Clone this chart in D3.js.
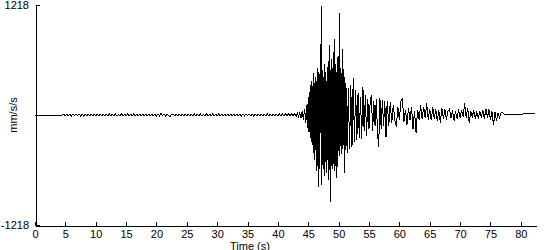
<!DOCTYPE html>
<html><head><meta charset="utf-8">
<script src="https://cdn.jsdelivr.net/npm/d3@7"></script>
<style>
html,body{margin:0;padding:0;background:#fff;}
svg{display:block;}
text{font-family:"Liberation Sans",Arial,sans-serif;font-size:11px;fill:#000;}
</style></head>
<body>
<svg id="chart" width="550" height="250"></svg>
<script>
// ---- data (time in s, acceleration in mm/s/s) ----
const xTicks = [0,5,10,15,20,25,30,35,40,45,50,55,60,65,70,75,80];
const yTickLabels = [-1218, 1218];
const yTicks = [-1218, 0, 1218];
const yLabel = "mm/s/s";
const xLabel = "Time (s)";

const quietTrace = [[0,0],[4.5,0]];
const noiseTrace = [
[4.75,9],[5.0,-8],[5.25,10],[5.5,-9],[5.75,8],[6.0,-10],[6.25,11],[6.5,-9],[6.75,9],[7.0,-8],[7.25,10],[7.5,-9],[7.75,8],[8.0,-10],[8.25,11],[8.5,-9],
[8.75,9],[9.0,-8],[9.25,10],[9.5,-9],[9.75,8],[10.0,-10],[10.25,11],[10.5,-9],[10.75,9],[11.0,-8],[11.25,10],[11.5,-9],[11.75,8],[12.0,-10],[12.25,11],[12.5,-9],
[12.75,9],[13.0,-8],[13.25,10],[13.5,-9],[13.75,8],[14.0,-10],[14.25,11],[14.5,-9],[14.75,9],[15.0,-8],[15.25,10],[15.5,-9],[15.75,8],[16.0,-10],[16.25,11],[16.5,-9],
[16.75,9],[17.0,-8],[17.25,10],[17.5,-9],[17.75,8],[18.0,-10],[18.25,11],[18.5,-9],[18.75,9],[19.0,-8],[19.25,10],[19.5,-9],[19.75,8],[20.0,-10],[20.25,11],[20.5,-9],
[20.75,18],[21.0,-8],[21.25,10],[21.5,-9],[21.75,8],[22.0,-10],[22.25,-17],[22.5,9],[22.75,9],[23.0,-8],[23.25,10],[23.5,-9],[23.75,8],[24.0,-10],[24.25,11],[24.5,-9],
[24.75,9],[25.0,-8],[25.25,10],[25.5,-9],[25.75,8],[26.0,-10],[26.25,11],[26.5,-9],[26.75,9],[27.0,-8],[27.25,10],[27.5,-9],[27.75,8],[28.0,-10],[28.25,11],[28.5,-9],
[28.75,9],[29.0,-8],[29.25,10],[29.5,-9],[29.75,8],[30.0,-10],[30.25,11],[30.5,-9],[30.75,9],[31.0,-8],[31.25,10],[31.5,-9],[31.75,8],[32.0,-10],[32.25,11],[32.5,-9],
[32.75,9],[33.0,-8],[33.25,10],[33.5,-9],[33.75,8],[34.0,-10],[34.25,11],[34.5,-9],[34.75,9],[35.0,-8],[35.25,10],[35.5,-9],[35.75,8],[36.0,-10],[36.25,11],[36.5,-9],
[36.75,9],[37.0,-8],[37.25,10],[37.5,-9],[37.75,8],[38.0,-10],[38.25,11],[38.5,-9],[38.75,9],[39.0,-8],[39.25,10],[39.5,-9],[39.75,8],[40.0,-10],[40.25,11],[40.5,-9],
[40.75,10],[41.0,-9],[41.25,11],[41.5,-10],[41.75,12],[42.0,-11],[42.25,13],[42.5,-12],[42.75,14]];
const onsetTrace = [[43.0,-15],[43.2,18],[43.4,-20],[43.6,25],[43.8,-30],[44.0,40],[44.2,-50],[44.4,70],[44.6,-90],[44.8,120],[44.9,-140],[45.0,200],[45.1,-190]];
const strongTrace = [[45.2,260],[45.3,-250],[45.4,330],[45.5,-300],[45.6,380],[45.7,-330],[45.8,470],[45.9,-420],[46.0,350],[46.1,-500],[46.2,420],[46.3,-620],[46.4,380],[46.5,-560],[46.6,520],[46.7,-800],[46.8,450],[46.9,-600],[47.0,610],[47.05,-200],[47.12,1210],[47.2,-775],[47.3,500],[47.4,-550],[47.5,420],[47.6,-680],[47.7,560],[47.8,-520],[47.9,480],[48.0,-640],[48.1,530],[48.2,-500],[48.3,600],[48.4,-720],[48.5,780],[48.6,-960],[48.7,500],[48.8,-560],[48.9,620],[49.0,-600],[49.1,700],[49.2,-540],[49.3,840],[49.4,-620],[49.5,560],[49.6,-700],[49.7,480],[49.8,-580],[49.9,650],[50.0,-400],[50.1,1130],[50.2,-450],[50.3,520],[50.4,-430],[50.5,470],[50.6,-380],[50.7,730],[50.8,-330],[50.9,420],[51.0,-640]];
const decayTrace = [[51.2,350],[51.4,-420],[51.6,300],[51.8,-380],[52.0,330],[52.2,-350],[52.4,410],[52.6,-300],[52.8,280],[53.0,-280],[53.2,240],[53.4,-250],[53.6,200],[53.8,-270],[54.0,310],[54.2,-180],[54.4,220],[54.6,-230],[54.8,180],[55.0,-150],[55.2,160],[55.4,220],[55.6,-180],[55.8,150],[56.0,-120],[56.2,180],[56.4,-200],[56.6,-350],[56.8,190],[57.0,-150],[57.2,170],[57.4,-120],[57.6,150],[57.8,-245]];
const codaTrace = [[58.0,160],[58.25,-120],[58.5,140],[58.75,-90],[59.0,110],[59.25,-60],[59.5,-130],[59.75,90],[60.0,-60],[60.25,150],[60.5,190],[60.75,-80],[61.0,60],[61.25,-110],[61.5,80],[61.75,-60],[62.0,90],[62.25,-150],[62.5,40],[62.75,-200],[63.0,60],[63.25,-50],[63.5,110],[63.75,-40],[64.0,90],[64.25,-30],[64.5,130],[64.75,-50],[65.0,70],[65.25,-60],[65.5,90],[65.75,-40],[66.0,60],[66.25,-70],[66.5,50],[66.75,-90],[67.0,80],[67.25,-40],[67.5,60],[67.75,-50],[68.0,40],[68.25,65],[68.5,-30],[68.75,50],[69.0,-60],[69.25,40],[69.5,-40],[69.75,60],[70.0,-30],[70.25,50],[70.5,-20],[70.75,130],[71.0,-30],[71.25,80],[71.5,-90],[71.75,40],[72.0,-20],[72.25,50],[72.5,-40],[72.75,30],[73.0,-30],[73.25,40],[73.5,-20],[73.75,50],[74.0,-40],[74.25,70],[74.5,-30],[74.75,60],[75.0,-50],[75.25,40],[75.5,-110],[75.75,30],[76.0,-60],[76.25,20],[76.5,-30],[76.75,25],[77.0,30],[77.3,8]];
const tailTrace = [[80.3,8],[80.4,15],[82.3,15]];

const trace = [].concat(quietTrace, noiseTrace, onsetTrace, strongTrace, decayTrace, codaTrace, tailTrace);

// ---- drawing ----
const svg = d3.select("#chart");
const x = d3.scaleLinear().domain([0, 82.5]).range([35, 536]);
const y = d3.scaleLinear().domain([-1218, 1218]).range([225, 5]);

const line = d3.line().x(d => x(d[0])).y(d => y(d[1]));
svg.append("path").datum(trace)
  .attr("d", line).attr("fill", "none").attr("stroke", "#000")
  .attr("stroke-width", 1).attr("shape-rendering", "crispEdges");

// x axis
const xAxis = svg.append("g").attr("transform", "translate(0,225.5)")
  .call(d3.axisBottom(x).tickValues(xTicks).tickSize(-4).tickPadding(5).tickSizeOuter(0));
xAxis.select(".domain").attr("stroke", "#000").attr("shape-rendering", "crispEdges");
xAxis.selectAll(".tick line").attr("stroke", "#000").attr("shape-rendering", "crispEdges");
xAxis.selectAll("text").attr("font-size", 11).attr("font-family", "Liberation Sans, Arial, sans-serif").attr("dy", "0.71em");

// y axis
const yAxis = svg.append("g").attr("transform", "translate(35.5,0)")
  .call(d3.axisRight(y).tickValues(yTicks).tickSize(4).tickFormat(() => "").tickSizeOuter(0));
yAxis.select(".domain").attr("stroke", "#000").attr("shape-rendering", "crispEdges");
yAxis.selectAll(".tick line").attr("stroke", "#000").attr("shape-rendering", "crispEdges");

svg.append("g").selectAll("text").data(yTickLabels).join("text")
  .attr("x", 29).attr("y", d => y(d)).attr("dy", "0.35em")
  .attr("text-anchor", "end").text(d => d);

svg.append("text").attr("transform", "translate(17,115) rotate(-90)")
  .attr("text-anchor", "middle").text(yLabel);
svg.append("text").attr("x", 250).attr("y", 249.5)
  .attr("font-size", 10.5)
  .attr("text-anchor", "middle").text(xLabel);
</script>
</body></html>
